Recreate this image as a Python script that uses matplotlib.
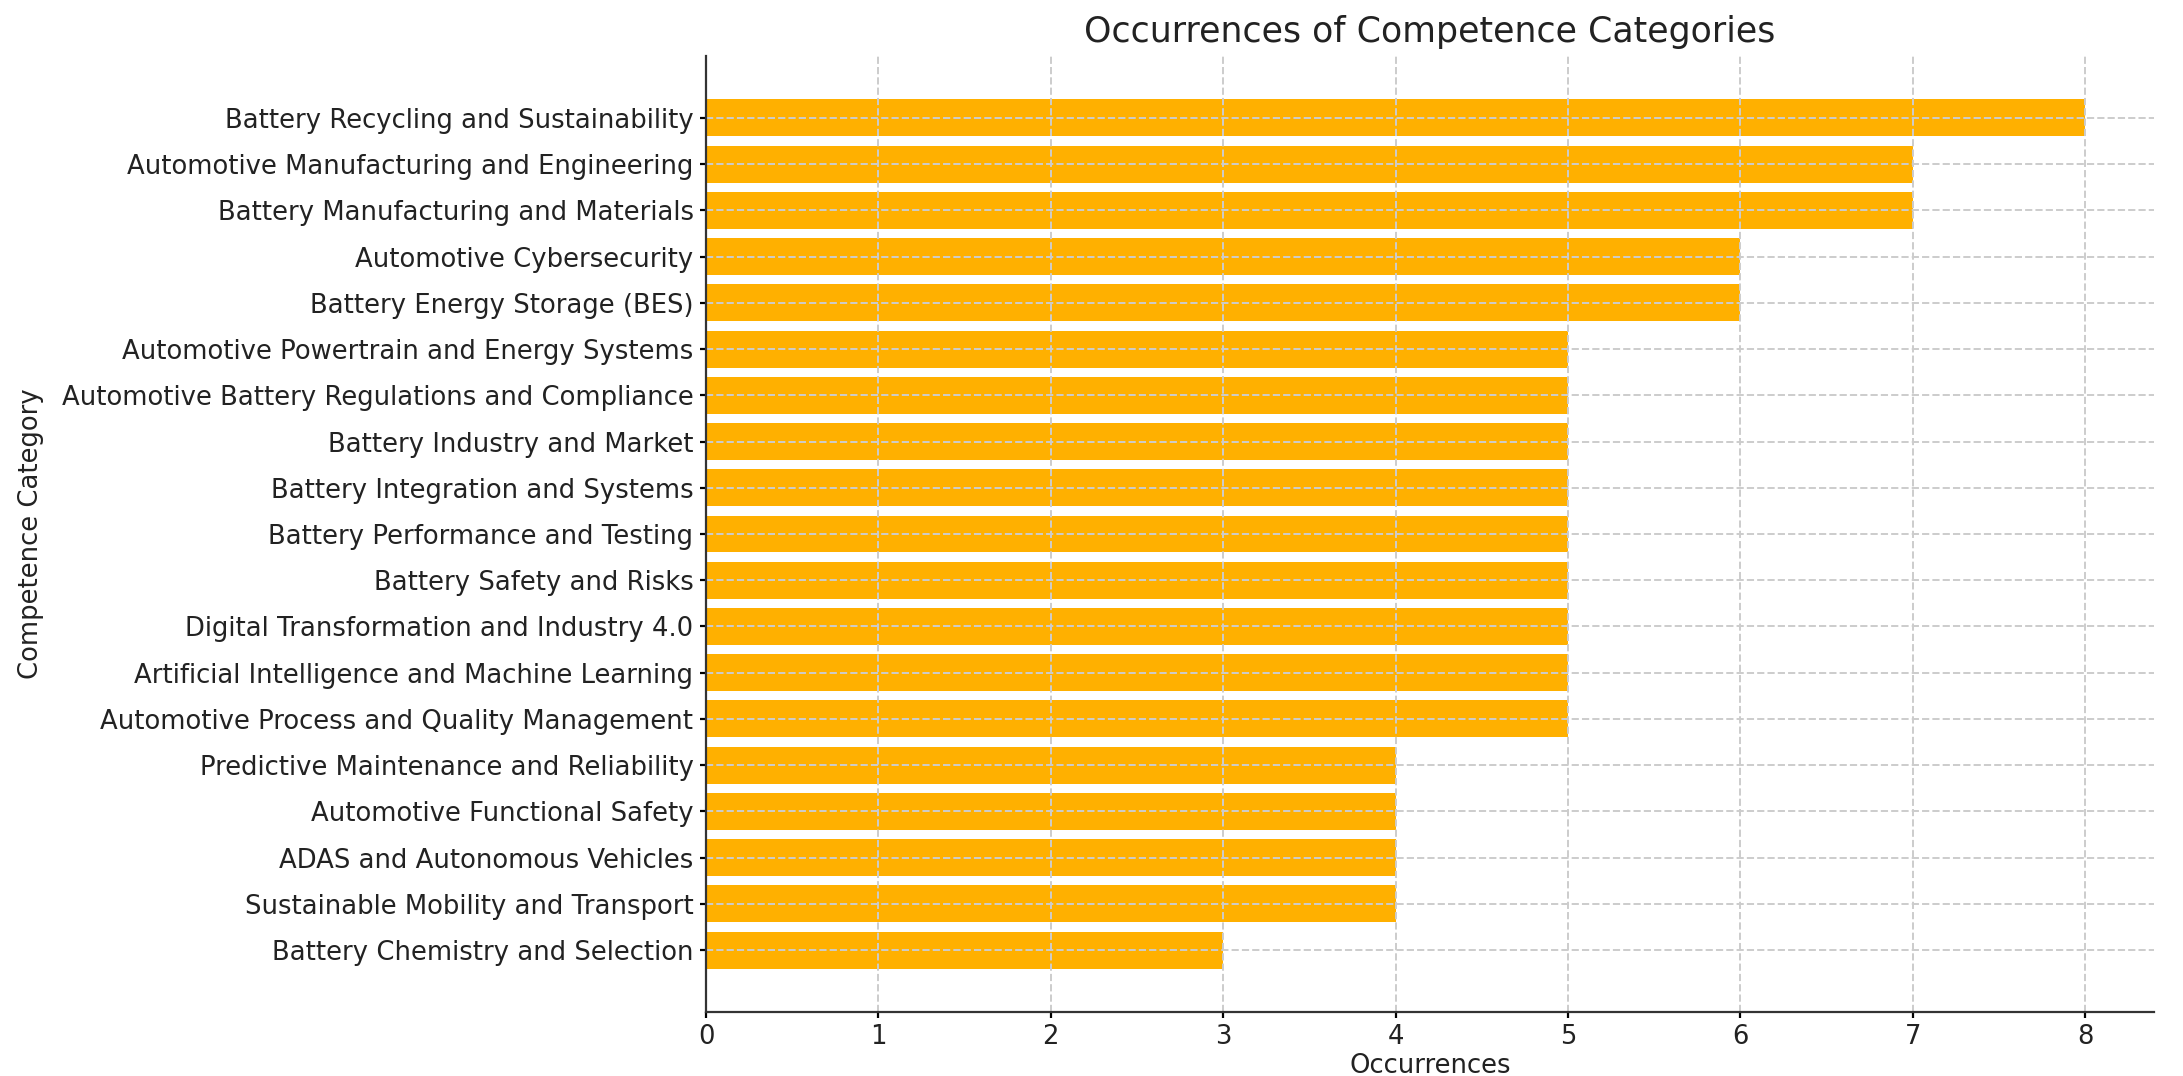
import matplotlib.pyplot as plt
import numpy as np

# 역량 카테고리 (아래에서 위로 그려지도록 뒤집어서 사용)
categories = [
    'Battery Recycling and Sustainability',
    'Automotive Manufacturing and Engineering',
    'Battery Manufacturing and Materials',
    'Automotive Cybersecurity',
    'Battery Energy Storage (BES)',
    'Automotive Powertrain and Energy Systems',
    'Automotive Battery Regulations and Compliance',
    'Battery Industry and Market',
    'Battery Integration and Systems',
    'Battery Performance and Testing',
    'Battery Safety and Risks',
    'Digital Transformation and Industry 4.0',
    'Artificial Intelligence and Machine Learning',
    'Automotive Process and Quality Management',
    'Predictive Maintenance and Reliability',
    'Automotive Functional Safety',
    'ADAS and Autonomous Vehicles',
    'Sustainable Mobility and Transport',
    'Battery Chemistry and Selection',
]
occurrences = [8, 7, 7, 6, 6, 5, 5, 5, 5, 5, 5, 5, 5, 5, 4, 4, 4, 4, 3]

plt.rcParams['font.family'] = 'DejaVu Sans'

fig = plt.figure(figsize=(2183 / 200, 1076 / 200), dpi=200)
ax = fig.add_axes([706 / 2183, 1 - 1012 / 1076, (2154 - 706) / 2183, (1012 - 56) / 1076])

y = np.arange(len(categories))
ax.barh(y, occurrences[::-1], color='#FFB000')
ax.set_yticks(y)
ax.set_yticklabels(categories[::-1], fontsize=9.3, color='#222222')
ax.tick_params(axis='x', labelsize=9.3, labelcolor='#222222')
ax.tick_params(length=2, pad=2.5)

ax.set_title('Occurrences of Competence Categories', fontsize=12.5, color='#222222', pad=5)
ax.set_xlabel('Occurrences', fontsize=9.3, color='#222222', labelpad=1)
ax.set_ylabel('Competence Category', fontsize=9.3, color='#222222')
ax.yaxis.set_label_coords(-0.457, 0.5)

ax.grid(True, linestyle='--', color='#cccccc', linewidth=0.7)
ax.spines['top'].set_visible(False)
ax.spines['right'].set_visible(False)
ax.spines['left'].set_color('#333333')
ax.spines['bottom'].set_color('#333333')

fig.savefig('out.png', dpi=200)
